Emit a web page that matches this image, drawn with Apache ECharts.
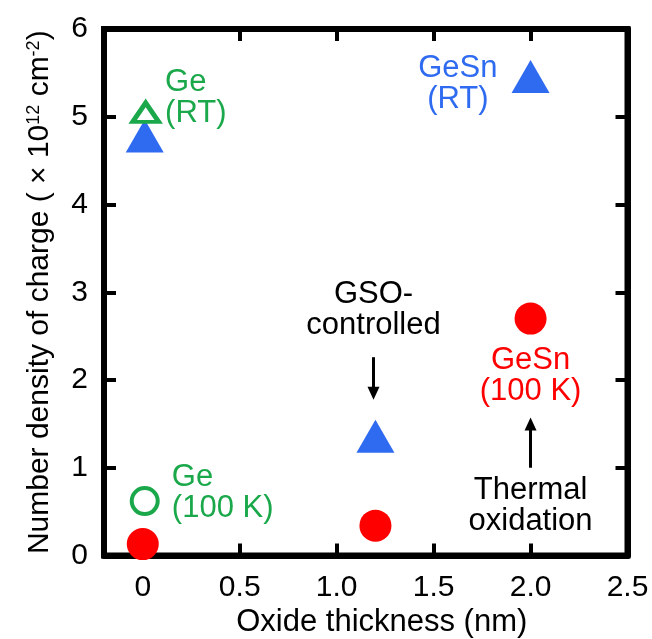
<!DOCTYPE html>
<html>
<head>
<meta charset="utf-8">
<script src="https://cdn.jsdelivr.net/npm/echarts@6/dist/echarts.min.js"></script>
<style>
  html, body { margin: 0; padding: 0; background: #fff; }
  #chart { width: 652px; height: 639px; }
</style>
</head>
<body>
<div id="chart"></div>
<script>
// ---- data ----
const gesnRtX = [0.01, 1.2, 2.0];
const gesnRtY = [4.78, 1.36, 5.46];
const gesn100X = [0.0, 1.2, 2.0];
const gesn100Y = [0.13, 0.34, 2.70];
const geRtX = [0.015];
const geRtY = [5.05];
const ge100X = [0.01];
const ge100Y = [0.62];

const xTickValues = [0, 0.5, 1, 1.5, 2, 2.5];
const xTickLabels = ['0', '0.5', '1.0', '1.5', '2.0', '2.5'];
const xTickMarks = [0.5, 1, 1.5, 2];

// annotation texts (positions in data coordinates)
const annoTexts = ['Ge\n(RT)', 'Ge\n(100 K)', 'GeSn\n(RT)', 'GSO-\ncontrolled', 'GeSn\n(100 K)', 'Thermal\noxidation'];
const annoX = [0.115, 0.15, 1.625, 1.19, 2.0, 2.0];
const annoY = [5.21, 0.71, 5.37, 2.80, 2.05, 0.56];
const annoAlign = ['left', 'left', 'center', 'center', 'center', 'center'];
const annoColor = ['#1aa84a', '#1aa84a', '#2f6bf0', '#000000', '#ff0000', '#000000'];

// arrows: [x, yStart, yEnd]
const arrowX = [1.19, 2.0];
const arrowFrom = [2.26, 1.0];
const arrowTo = [1.85, 1.50];

const BLUE = '#2f6bf0', RED = '#ff0000', GREEN = '#1aa84a';
const FONT = 'Liberation Sans, Arial, Helvetica, sans-serif';

const zip = (xs, ys) => xs.map((x, i) => [x, ys[i]]);

const chart = echarts.init(document.getElementById('chart'), null, { renderer: 'canvas' });

const lineStyleAxis = { color: '#000', width: 6 };
const tickStyle = { color: '#000', width: 4 };
const xBase = {
  type: 'value', min: -0.2, max: 2.5,
  splitLine: { show: false },
  axisLine: { show: true, onZero: false, lineStyle: lineStyleAxis },
  axisTick: { show: true, inside: true, length: 12, customValues: xTickMarks, lineStyle: tickStyle }
};
const yBase = {
  type: 'value', min: 0, max: 6, interval: 1,
  splitLine: { show: false },
  axisLine: { show: true, onZero: false, lineStyle: lineStyleAxis },
  axisTick: { show: true, inside: true, length: 12, lineStyle: tickStyle }
};

chart.setOption({
  animation: false,
  backgroundColor: '#fff',
  grid: {
    left: 104, right: 24.5, top: 29, bottom: 83.5,
    outerBoundsMode: 'none', containLabel: false,
    show: true, borderColor: '#000', borderWidth: 6, backgroundColor: 'transparent'
  },
  xAxis: [
    Object.assign({}, xBase, {
      position: 'bottom',
      name: 'Oxide thickness (nm)', nameLocation: 'middle', nameGap: 51,
      nameTextStyle: { fontFamily: FONT, fontSize: 31, color: '#000', padding: [0, 0, 0, 32] },
      axisLabel: {
        show: true, margin: 17, customValues: xTickValues,
        fontFamily: FONT, fontSize: 30, color: '#000',
        formatter: v => xTickLabels[xTickValues.indexOf(v)] ?? String(v)
      }
    }),
    Object.assign({}, xBase, {
      position: 'top',
      axisLabel: { show: false, customValues: xTickValues }
    })
  ],
  yAxis: [
    Object.assign({}, yBase, {
      position: 'left',
      name: 'Number density of charge ( × 10{sup|12} cm{sup|-2})',
      nameLocation: 'middle', nameGap: 49,
      nameTextStyle: {
        fontFamily: FONT, fontSize: 30, color: '#000',
        rich: { sup: { fontFamily: FONT, fontSize: 18, color: '#000', verticalAlign: 'top' } }
      },
      axisLabel: { show: true, margin: 16, fontFamily: FONT, fontSize: 30, color: '#000' }
    }),
    Object.assign({}, yBase, { position: 'right', axisLabel: { show: false } })
  ],
  series: [
    {
      name: 'GeSn (RT)', type: 'scatter', clip: false, z: 3,
      symbol: 'triangle', symbolSize: [38, 33],
      itemStyle: { color: BLUE, opacity: 1 },
      data: zip(gesnRtX, gesnRtY)
    },
    {
      name: 'GeSn (100 K)', type: 'scatter', clip: false, z: 3,
      symbol: 'circle', symbolSize: 32,
      itemStyle: { color: RED, opacity: 1 },
      data: zip(gesn100X, gesn100Y)
    },
    {
      name: 'Ge (RT)', type: 'scatter', clip: false, z: 4,
      symbol: 'triangle', symbolSize: [26, 19],
      itemStyle: { color: '#ffffff', borderColor: GREEN, borderWidth: 4.5, opacity: 1 },
      data: zip(geRtX, geRtY)
    },
    {
      name: 'Ge (100 K)', type: 'scatter', clip: false, z: 4,
      symbol: 'circle', symbolSize: 26,
      itemStyle: { color: '#ffffff', borderColor: GREEN, borderWidth: 4, opacity: 1 },
      data: zip(ge100X, ge100Y)
    },
    {
      name: 'annotations', type: 'scatter', clip: false, z: 5, silent: true,
      symbolSize: 0,
      itemStyle: { opacity: 1 },
      data: annoTexts.map((t, i) => ({
        value: [annoX[i], annoY[i]],
        label: {
          show: true, position: 'inside', formatter: t,
          align: annoAlign[i], verticalAlign: 'middle',
          fontFamily: FONT, fontSize: 31, lineHeight: 31, color: annoColor[i], opacity: 1
        }
      })),
      markLine: {
        silent: true, animation: false,
        symbol: ['none', 'triangle'], symbolSize: [12, 13],
        label: { show: false },
        lineStyle: { color: '#000', width: 3, type: 'solid', opacity: 1 },
        itemStyle: { color: '#000', opacity: 1 },
        emphasis: { disabled: true },
        data: arrowX.map((x, i) => [{ coord: [x, arrowFrom[i]] }, { coord: [x, arrowTo[i]] }])
      }
    }
  ]
});
</script>
</body>
</html>
